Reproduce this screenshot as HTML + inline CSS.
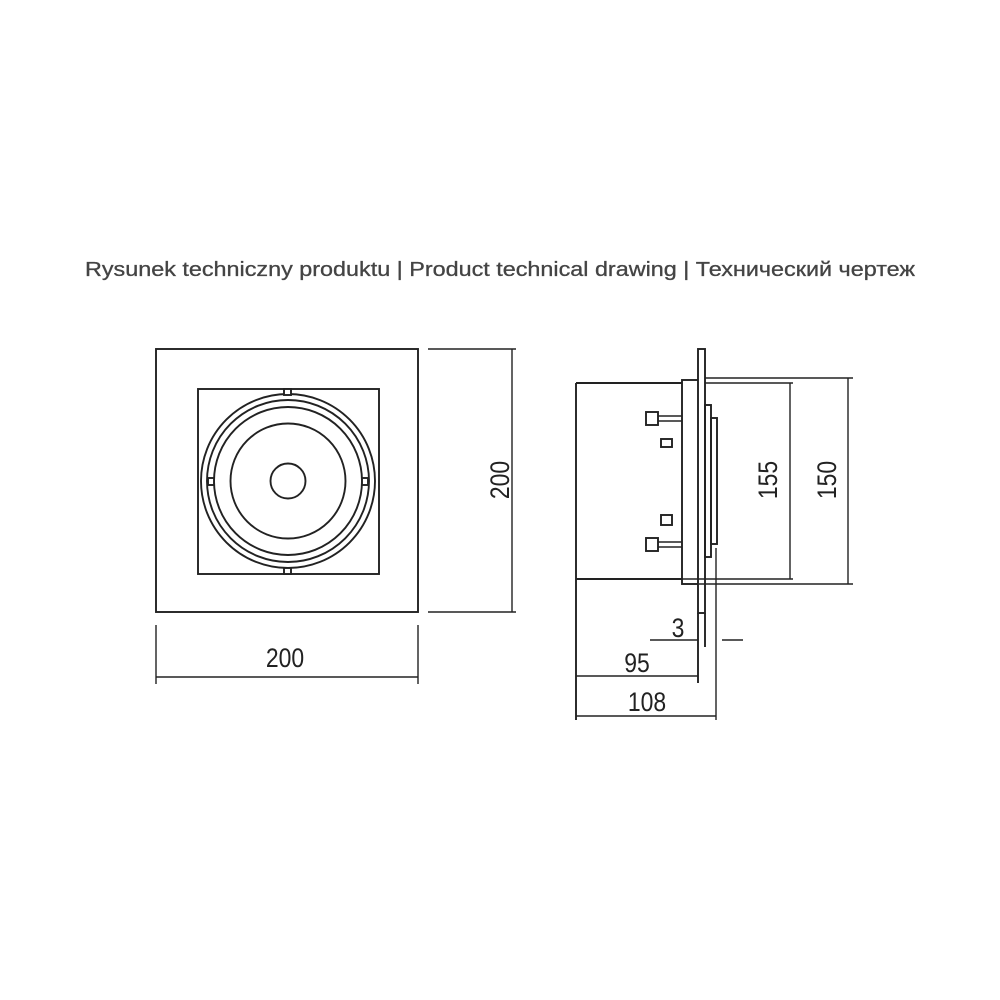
<!DOCTYPE html>
<html><head><meta charset="utf-8"><style>html,body{margin:0;padding:0;background:#fff}svg{display:block}</style></head>
<body>
<svg width="1000" height="1000" viewBox="0 0 1000 1000" xmlns="http://www.w3.org/2000/svg">
<text x="85" y="276" font-family="Liberation Sans, sans-serif" font-size="20" fill="#444" stroke="#444" stroke-width="0.3" textLength="830" lengthAdjust="spacingAndGlyphs">Rysunek techniczny produktu | Product technical drawing | Технический чертеж</text>
<g fill="none" stroke="#222" stroke-width="1.9">
<rect x="156" y="349" width="262" height="263"/>
<rect x="198" y="389" width="181" height="185"/>
<circle cx="288" cy="481" r="87"/>
<circle cx="288" cy="481" r="81"/>
<circle cx="288" cy="481" r="74"/>
<circle cx="288" cy="481" r="57.5"/>
<circle cx="288" cy="481" r="17.5"/>
<rect x="284" y="389" width="7" height="6" fill="#fff"/>
<rect x="284" y="568" width="7" height="6" fill="#fff"/>
<rect x="208" y="478" width="6" height="7" fill="#fff"/>
<rect x="362" y="478" width="6" height="7" fill="#fff"/>
<line x1="428" y1="349" x2="516" y2="349" stroke-width="1.4"/>
<line x1="428" y1="612" x2="516" y2="612" stroke-width="1.4"/>
<line x1="512" y1="349" x2="512" y2="612" stroke-width="1.4"/>
<line x1="156" y1="625" x2="156" y2="684" stroke-width="1.4"/>
<line x1="418" y1="625" x2="418" y2="684" stroke-width="1.4"/>
<line x1="156" y1="677" x2="418" y2="677" stroke-width="1.4"/>
<line x1="576" y1="383" x2="576" y2="720"/>
<line x1="576" y1="383" x2="682" y2="383"/>
<line x1="576" y1="579" x2="682" y2="579"/>
<rect x="682" y="380" width="17" height="204"/>
<rect x="698" y="349" width="7" height="264" fill="#fff"/>
<line x1="705" y1="613" x2="705" y2="647"/>
<line x1="698" y1="613" x2="698" y2="683"/>
<rect x="705" y="405" width="6" height="152"/>
<rect x="711" y="418" width="6" height="126"/>
<line x1="716" y1="548" x2="716" y2="720" stroke-width="1.4"/>
<line x1="705" y1="378" x2="853" y2="378" stroke-width="1.4"/>
<line x1="699" y1="584" x2="853" y2="584" stroke-width="1.4"/>
<line x1="705" y1="383" x2="793" y2="383" stroke-width="1.4"/>
<line x1="682" y1="579" x2="793" y2="579" stroke-width="1.4"/>
<line x1="790" y1="383" x2="790" y2="579" stroke-width="1.4"/>
<line x1="848" y1="378" x2="848" y2="584" stroke-width="1.4"/>
<rect x="646" y="412" width="12" height="13"/>
<line x1="658" y1="416" x2="682" y2="416" stroke-width="1.4"/>
<line x1="658" y1="421" x2="682" y2="421" stroke-width="1.4"/>
<rect x="661" y="439" width="11" height="8"/>
<rect x="661" y="515" width="11" height="10"/>
<rect x="646" y="538" width="12" height="13"/>
<line x1="658" y1="542" x2="682" y2="542" stroke-width="1.4"/>
<line x1="658" y1="547" x2="682" y2="547" stroke-width="1.4"/>
<line x1="650" y1="640" x2="698" y2="640" stroke-width="1.4"/>
<line x1="722" y1="640" x2="743" y2="640" stroke-width="1.4"/>
<line x1="576" y1="676" x2="698" y2="676" stroke-width="1.4"/>
<line x1="576" y1="716" x2="716" y2="716" stroke-width="1.4"/>
</g>
<g font-family="Liberation Sans, sans-serif" font-size="27" fill="#222" text-anchor="middle">
<text x="0" y="0" transform="translate(285 667) scale(0.85 1)">200</text>
<text x="0" y="0" transform="translate(502 480) rotate(-90) scale(0.85 1)" dominant-baseline="middle">200</text>
<text x="0" y="0" transform="translate(770 480) rotate(-90) scale(0.85 1)" dominant-baseline="middle">155</text>
<text x="0" y="0" transform="translate(829 480) rotate(-90) scale(0.85 1)" dominant-baseline="middle">150</text>
<text x="0" y="0" transform="translate(678 637) scale(0.85 1)">3</text>
<text x="0" y="0" transform="translate(637 672) scale(0.85 1)">95</text>
<text x="0" y="0" transform="translate(647 711) scale(0.85 1)">108</text>
</g>
</svg>
</body></html>
